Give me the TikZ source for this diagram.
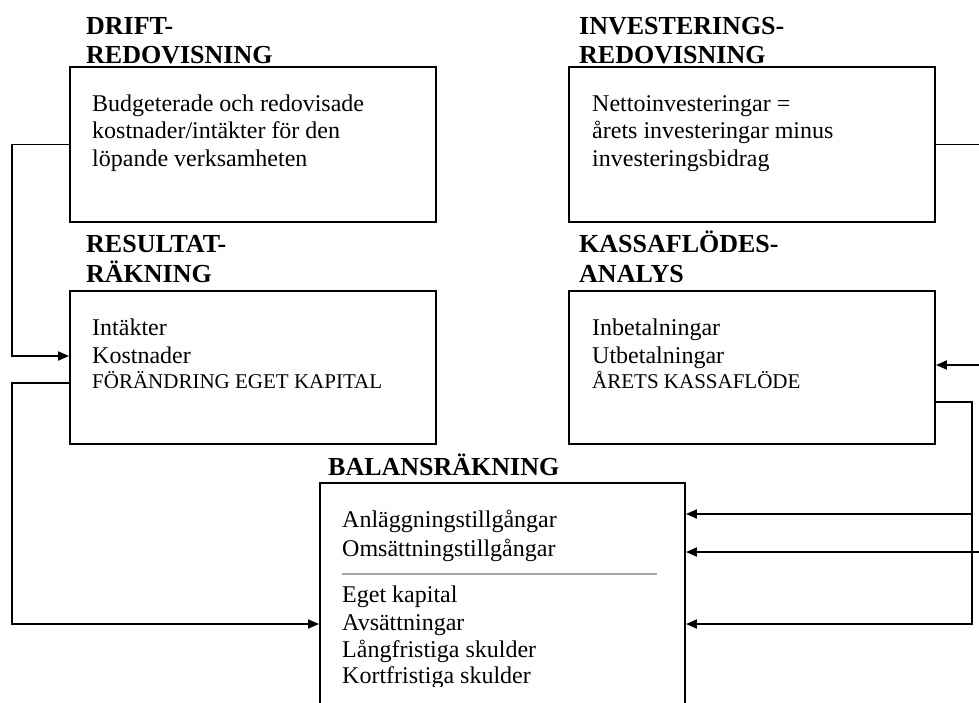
\documentclass[tikz,border=0pt]{standalone}
\usepackage{fontspec}
\setmainfont{Liberation Serif}
\usetikzlibrary{arrows.meta}
\begin{document}
\begin{tikzpicture}[x=1pt,y=-1pt,
  box/.style={draw, line width=1.9pt, minimum width=366pt, inner sep=0pt},
  conn/.style={line width=1.9pt},
  arr/.style={conn, -{Triangle[length=11pt,width=9pt]}},
  ttl/.style={anchor=base west, inner sep=0pt, font=\bfseries\fontsize{26}{29}\selectfont},
  txt/.style={anchor=base west, inner sep=0pt, font=\fontsize{24}{27}\selectfont},
  captxt/.style={anchor=base west, inner sep=0pt, font=\fontsize{21}{25}\selectfont},
  sepline/.style={line width=1.5pt, draw=black!35}]
\useasboundingbox (0,0) rectangle (979,702);
\clip (0,0) rectangle (979,702);

% boxes
\node[box, minimum height=155pt] (b1) at (253,144.5) {};
\node[box, minimum height=155pt] (b2) at (752,144.5) {};
\node[box, minimum height=153pt] (b3) at (253,367.5) {};
\node[box, minimum height=153pt] (b4) at (752,367.5) {};
\node[box, minimum width=365pt, minimum height=300pt] (b5) at (502.5,633) {};

% titles
\node[ttl] (t1a) at (86,34) {DRIFT-};
\node[ttl] (t1b) at (86,63) {REDOVISNING};
\node[ttl] (t2a) at (579,34) {INVESTERINGS-};
\node[ttl] (t2b) at (579,63) {REDOVISNING};
\node[ttl] (t3a) at (86,252) {RESULTAT-};
\node[ttl] (t3b) at (86,282) {RÄKNING};
\node[ttl] (t4a) at (579,252) {KASSAFLÖDES-};
\node[ttl] (t4b) at (579,282) {ANALYS};
\node[ttl] (t5) at (328,475) {BALANSRÄKNING};

% box texts
\node[txt] (x1a) at (92,111) {Budgeterade och redovisade};
\node[txt] (x1b) at (92,138) {kostnader/intäkter för den};
\node[txt] (x1c) at (92,166) {löpande verksamheten};
\node[txt] (x2a) at (592,111) {Nettoinvesteringar =};
\node[txt] (x2b) at (592,138) {årets investeringar minus};
\node[txt] (x2c) at (592,166) {investeringsbidrag};
\node[txt] (x3a) at (92,335) {Intäkter};
\node[txt] (x3b) at (92,363) {Kostnader};
\node[captxt] (x3c) at (92,388) {FÖRÄNDRING EGET KAPITAL};
\node[txt] (x4a) at (592,335) {Inbetalningar};
\node[txt] (x4b) at (592,363) {Utbetalningar};
\node[captxt] (x4c) at (592,388) {ÅRETS KASSAFLÖDE};
\node[txt] (x5a) at (342,527) {Anläggningstillgångar};
\node[txt] (x5b) at (342,556) {Omsättningstillgångar};
\coordinate (s1) at (342,574);
\coordinate (s2) at (657,574);
\draw[sepline] (s1) -- (s2);
\node[txt] (x5c) at (342,602) {Eget kapital};
\node[txt] (x5d) at (342,630) {Avsättningar};
\node[txt] (x5e) at (342,657) {Långfristiga skulder};
\begin{scope}
  \clip (300,600) rectangle (700,686);
  \node[txt] (x5f) at (342,683) {Kortfristiga skulder};
\end{scope}

% left connectors
\coordinate (L1) at (12,356);
\draw[arr] (b1.west) -| (L1) -- (b3.west |- L1);
\coordinate (L2) at (12,383);
\coordinate (L3) at (12,624);
\draw[arr] (b3.west |- L2) -- (L2) -- (L3) -- (b5.west |- L3);

% right connectors
\coordinate (R1) at (979,144.5);
\draw[conn] (b2.east) -- (R1);
\coordinate (R2) at (979,365);
\draw[arr] (R2) -- (b4.east |- R2);
\coordinate (R3) at (972,402);
\coordinate (R4) at (972,624);
\draw[arr] (b4.east |- R3) -- (R3) -- (R4) -- (b5.east |- R4);
\coordinate (R5) at (972,514);
\draw[arr] (R5) -- (b5.east |- R5);
\coordinate (R6) at (979,552);
\draw[arr] (R6) -- (b5.east |- R6);
\end{tikzpicture}
\end{document}
